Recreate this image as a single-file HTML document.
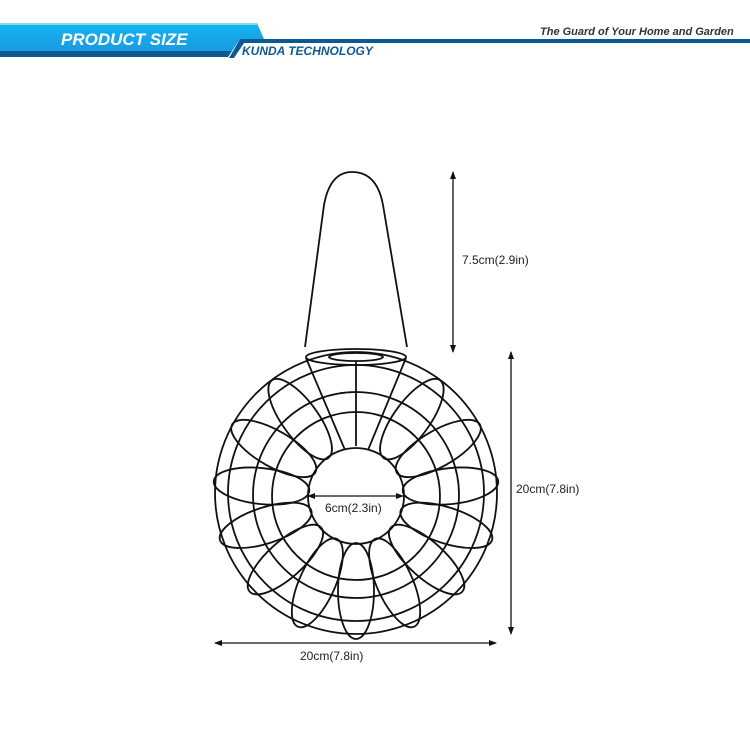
<!DOCTYPE html>
<html><head><style>
body{margin:0;width:750px;height:750px;background:#fff;overflow:hidden;font-family:"Liberation Sans",sans-serif}
</style></head><body>
<svg width="750" height="750" viewBox="0 0 750 750" xmlns="http://www.w3.org/2000/svg">
<defs>
<linearGradient id="g" x1="0" y1="0" x2="0" y2="1"><stop offset="0" stop-color="#14b4f2"/><stop offset="1" stop-color="#1a9be0"/></linearGradient>
<marker id="a" markerWidth="8" markerHeight="8" refX="7" refY="4" orient="auto-start-reverse" markerUnits="userSpaceOnUse"><path d="M0,1 L8,4 L0,7 Z" fill="#111"/></marker>
</defs>
<polygon points="0,23 257,23 264,39 240,39 232,51 0,51" fill="url(#g)"/>
<rect x="0" y="23" width="257" height="2" fill="#7fe0d8"/>
<polygon points="0,51 232,51 228,57 0,57" fill="#0a5b94"/>
<polygon points="240,39 750,39 750,43 244,43 234,58 229,58" fill="#0a5b94"/>
<text x="61" y="45" font-size="17" font-weight="bold" font-style="italic" fill="#fff">PRODUCT SIZE</text>
<text x="242" y="55" font-size="12" font-weight="bold" font-style="italic" fill="#0a5b94">KUNDA TECHNOLOGY</text>
<text x="540" y="35" font-size="11" font-weight="bold" font-style="italic" fill="#333">The Guard of Your Home and Garden</text>
<g fill="none" stroke="#111" stroke-width="1.8">
<path d="M305,347 L324,205 Q330,172 352,172 Q377,172 383,205 L407,347"/>
<ellipse cx="356" cy="357" rx="50" ry="8"/>
<ellipse cx="356" cy="357" rx="27" ry="4"/>
<circle cx="356" cy="493" r="141"/>
<circle cx="356" cy="493" r="128"/>
<circle cx="356" cy="495" r="103"/>
<circle cx="356" cy="496" r="84"/>
<circle cx="356" cy="496" r="48"/>
<g transform="translate(356,496)">
<ellipse cx="0" cy="95" rx="18" ry="48" transform="rotate(0)"/>
<ellipse cx="0" cy="95" rx="18" ry="48" transform="rotate(24)"/>
<ellipse cx="0" cy="95" rx="18" ry="48" transform="rotate(48)"/>
<ellipse cx="0" cy="95" rx="18" ry="48" transform="rotate(72)"/>
<ellipse cx="0" cy="95" rx="18" ry="48" transform="rotate(96)"/>
<ellipse cx="0" cy="95" rx="18" ry="48" transform="rotate(120)"/>
<ellipse cx="0" cy="95" rx="18" ry="48" transform="rotate(-24)"/>
<ellipse cx="0" cy="95" rx="18" ry="48" transform="rotate(-48)"/>
<ellipse cx="0" cy="95" rx="18" ry="48" transform="rotate(-72)"/>
<ellipse cx="0" cy="95" rx="18" ry="48" transform="rotate(-96)"/>
<ellipse cx="0" cy="95" rx="18" ry="48" transform="rotate(-120)"/>
<ellipse cx="0" cy="95" rx="18" ry="48" transform="rotate(-144)"/>
<ellipse cx="0" cy="95" rx="18" ry="48" transform="rotate(144)"/>
</g>
<path d="M306,358 L345,450 M406,358 L368,450 M356,362 L356,446"/>
</g>
<g stroke="#111" stroke-width="1.3">
<line x1="453" y1="172" x2="453" y2="352" marker-start="url(#a)" marker-end="url(#a)"/>
<line x1="511" y1="352" x2="511" y2="634" marker-start="url(#a)" marker-end="url(#a)"/>
<line x1="215" y1="643" x2="496" y2="643" marker-start="url(#a)" marker-end="url(#a)"/>
<line x1="308" y1="496" x2="403" y2="496" marker-start="url(#a)" marker-end="url(#a)"/>
</g>
<rect x="322" y="500" width="70" height="16" fill="#fff"/>
<g font-size="12" fill="#222">
<text x="462" y="264">7.5cm(2.9in)</text>
<text x="516" y="493">20cm(7.8in)</text>
<text x="300" y="660">20cm(7.8in)</text>
<text x="325" y="512">6cm(2.3in)</text>
</g>
</svg>
</body></html>
